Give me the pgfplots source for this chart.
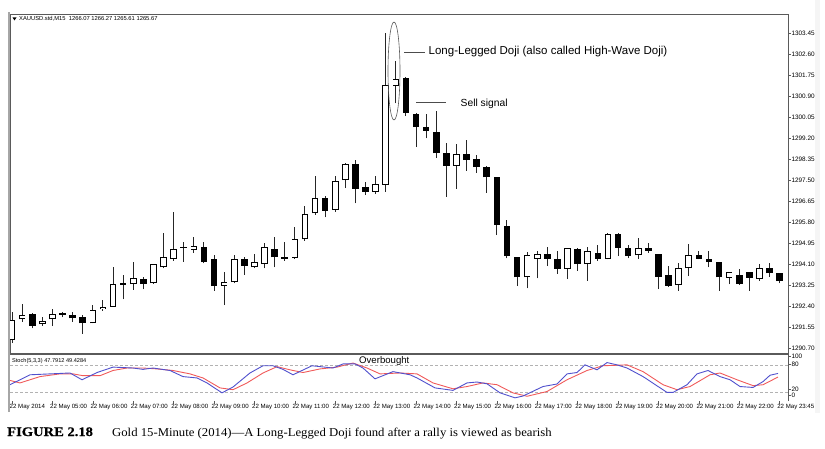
\documentclass[border=0pt]{standalone}
\usepackage{pgfplots}
\pgfplotsset{compat=1.18}
\usepackage{pgfplotstable}
\usepackage{fontspec}
\setmainfont{Liberation Sans}
\newfontfamily\capfont[FakeStretch=1.06]{Liberation Serif}
\newfontfamily\capbold[FakeStretch=1.12,FakeBold=0.6]{Liberation Serif Bold}
\definecolor{kblue}{RGB}{80,80,205}
\definecolor{dred}{RGB}{240,90,90}
\definecolor{frame}{RGB}{90,90,90}

\pgfplotstableread{
k O H L C
0 1291.02 1292.17 1290.90 1291.83
1 1291.86 1292.48 1291.76 1292.04
2 1292.08 1292.12 1291.50 1291.60
3 1291.66 1291.94 1291.60 1291.80
4 1291.86 1292.27 1291.59 1292.06
5 1292.12 1292.15 1291.94 1292.05
6 1292.04 1292.15 1291.76 1291.90
7 1291.94 1292.04 1291.27 1291.70
8 1291.70 1292.44 1291.70 1292.24
9 1292.27 1292.64 1292.21 1292.35
10 1292.37 1293.99 1292.37 1293.28
11 1293.27 1293.66 1292.67 1293.30
12 1293.29 1294.19 1293.05 1293.55
13 1293.49 1293.59 1293.08 1293.29
14 1293.32 1294.12 1293.30 1294.10
15 1293.97 1295.34 1293.93 1294.40
16 1294.30 1296.22 1294.23 1294.70
17 1294.75 1295.00 1294.19 1294.78
18 1294.67 1295.18 1294.56 1294.83
19 1294.78 1295.00 1294.13 1294.17
20 1294.30 1294.47 1293.02 1293.21
21 1293.22 1293.79 1292.44 1293.36
22 1293.36 1294.47 1293.32 1294.30
23 1294.30 1294.37 1293.66 1294.03
24 1293.97 1294.51 1293.93 1294.17
25 1294.10 1294.97 1293.93 1294.78
26 1294.70 1295.21 1293.97 1294.37
27 1294.40 1295.00 1294.23 1294.32
28 1294.34 1295.59 1294.30 1295.10
29 1295.10 1296.45 1295.05 1296.12
30 1296.15 1297.66 1296.10 1296.76
31 1296.79 1296.85 1295.99 1296.26
32 1296.29 1297.66 1296.22 1297.46
33 1297.50 1298.18 1297.17 1298.15
34 1298.14 1298.31 1296.56 1297.14
35 1297.23 1297.43 1296.89 1297.03
36 1297.03 1297.66 1296.93 1297.34
37 1297.30 1303.44 1297.03 1301.35
38 1301.30 1302.30 1300.60 1301.58
39 1301.64 1301.68 1300.09 1300.23
40 1300.16 1300.23 1298.83 1299.64
41 1299.64 1300.17 1299.19 1299.50
42 1299.46 1300.30 1298.40 1298.58
43 1298.58 1299.00 1296.83 1298.07
44 1298.07 1298.95 1297.14 1298.56
45 1298.54 1299.12 1297.88 1298.31
46 1298.35 1298.51 1297.80 1298.02
47 1298.04 1298.07 1296.99 1297.61
48 1297.61 1297.63 1295.27 1295.68
49 1295.65 1295.88 1294.33 1294.42
50 1294.37 1294.40 1293.21 1293.56
51 1293.56 1294.57 1293.12 1294.45
52 1294.32 1294.63 1293.52 1294.52
53 1294.49 1294.78 1294.02 1294.32
54 1294.32 1294.63 1293.70 1293.90
55 1293.89 1294.76 1293.49 1294.74
56 1294.72 1294.74 1293.82 1294.10
57 1294.10 1294.78 1293.42 1294.63
58 1294.56 1294.87 1294.23 1294.32
59 1294.30 1295.34 1294.29 1295.32
60 1295.32 1295.34 1294.42 1294.76
61 1294.74 1294.86 1294.33 1294.42
62 1294.45 1295.14 1294.30 1294.74
63 1294.74 1294.96 1294.56 1294.63
64 1294.49 1294.52 1293.09 1293.59
65 1293.66 1294.03 1293.18 1293.22
66 1293.25 1294.13 1293.01 1293.93
67 1293.93 1294.91 1293.61 1294.47
68 1294.45 1294.64 1294.29 1294.32
69 1294.29 1294.64 1293.97 1294.18
70 1294.17 1294.20 1293.02 1293.56
71 1293.55 1293.78 1293.28 1293.76
72 1293.66 1293.89 1293.27 1293.29
73 1293.76 1293.78 1293.01 1293.55
74 1293.49 1294.09 1293.42 1293.93
75 1293.93 1294.15 1293.59 1293.72
76 1293.72 1293.74 1293.32 1293.41
}\candles

\pgfplotstableread{
k v
-0.2 36
1.78 58
3.76 60
5.74 62
6.93 47
8.42 63
10.0 75
11.98 73
12.97 70
13.96 73
15.64 67.5
16.93 54
18.32 51
19.31 40
20.79 18
21.88 31
23.56 62
24.85 78
25.84 78
26.83 70
27.82 58
29.7 78
31.78 73
32.77 82
33.96 82
34.75 73
35.94 49
37.72 65
39.41 58
40.1 51
41.88 29
43.66 23.5
45.05 40
46.04 42
47.03 38
48.32 18
49.8 7
50.59 11
52.57 32
53.96 37.6
54.95 60
55.94 63
56.73 80
57.92 69
58.91 85
59.9 80
60.89 73
62.48 54
64.85 19
65.45 19
66.83 36
67.82 60
68.91 67.5
70.1 54
71.09 47
72.08 32
73.37 30
74.36 43
75.05 57
75.84 61
}\stochK

\pgfplotstableread{
k v
-0.2 45.5
0.79 40
2.77 54
4.75 60
6.04 60
7.03 56
8.71 56
10.0 67.5
11.39 73
12.97 73
14.36 71
15.94 67.5
17.62 60
18.91 51
20.59 29
21.88 25
23.27 40
24.85 62
26.24 76
27.52 69
28.81 63
30.5 71
32.18 75
33.76 84
35.15 73
36.44 60
38.42 62
40.1 60
41.68 40
43.66 27
45.05 32
46.63 40
48.02 36
49.6 18
51.0 10.5
52.97 21
54.95 47
56.93 67.5
58.51 78
60.89 80
62.48 65
64.46 36
65.84 25
67.13 32
69.11 58
70.1 62
71.78 47
73.37 34
74.36 36
75.84 53
}\stochD

\begin{document}
\begin{tikzpicture}
\path[use as bounding box] (0pt,0pt) rectangle (825pt,448pt);
\fill[gray!8] (815pt,35pt) rectangle (820pt,448pt);

% ---------------- main price panel
\begin{axis}[
  at={(10pt,95pt)}, anchor=south west,
  scale only axis, width=778pt, height=339pt,
  xmin=-0.2, xmax=76.83, ymin=1290.50, ymax=1304.22,
  axis line style={draw=frame, line width=0.8pt},
  xtick=\empty,
  ytick={1290.70,1291.55,1292.40,1293.25,1294.10,1294.95,1295.80,1296.65,1297.50,1298.35,1299.20,1300.05,1300.90,1301.75,1302.60,1303.45},
  yticklabels={1290.70,1291.55,1292.40,1293.25,1294.10,1294.95,1295.80,1296.65,1297.50,1298.35,1299.20,1300.05,1300.90,1301.75,1302.60,1303.45},
  ytick pos=right, tick align=outside, major tick length=2.5pt,
  tick style={draw=frame, line width=0.5pt},
  yticklabel style={font=\fontsize{6.4}{7}\selectfont, inner sep=0.8pt},
  error bars/error mark=none,
]
% wicks
\addplot[draw=none, mark=none, forget plot,
  error bars/.cd, y dir=plus, y explicit,
  error bar style={draw=black!85, solid, line width=0.9pt}]
  table[x=k, y=L, y error plus expr={\thisrow{H}-\thisrow{L}}] {\candles};
% bodies (outline / black fill)
\addplot[draw=none, mark=none, forget plot,
  error bars/.cd, y dir=plus, y explicit,
  error bar style={draw=black, solid, line width=6.6pt}]
  table[x=k, y expr={min(\thisrow{O},\thisrow{C})},
        y error plus expr={max(abs(\thisrow{C}-\thisrow{O}),0.045)}] {\candles};
% white interiors of rising candles
\addplot[draw=none, mark=none, forget plot,
  error bars/.cd, y dir=plus, y explicit,
  error bar style={draw=white, solid, line width=4.8pt}]
  table[x=k, y expr={\thisrow{O}+0.038},
        y error plus expr={max(\thisrow{C}-\thisrow{O}-0.076,0)}] {\candles};
\end{axis}

% ---------------- stochastic panel
\begin{axis}[
  at={(10pt,47pt)}, anchor=south west,
  scale only axis, width=778pt, height=47pt,
  xmin=-0.2, xmax=76.83, ymin=0, ymax=104,
  axis y line*=right, axis x line*=bottom,
  x axis line style={draw=none},
  y axis line style={draw=frame, line width=0.8pt},
  tick align=outside, major tick length=2.5pt,
  tick style={draw=frame, line width=0.5pt},
  ytick={98,82,26,13.3}, yticklabels={100,80,20,0},
  yticklabel style={font=\fontsize{6.4}{7}\selectfont, inner sep=0.8pt},
  xtick={0,4,8,12,16,20,24,28,32,36,40,44,48,52,56,60,64,68,72,76},
  xticklabels={22 May 2014,22 May 05:00,22 May 06:00,22 May 07:00,22 May 08:00,22 May 09:00,22 May 10:00,22 May 11:00,22 May 12:00,22 May 13:00,22 May 14:00,22 May 15:00,22 May 16:00,22 May 17:00,22 May 18:00,22 May 19:00,22 May 20:00,22 May 21:00,22 May 22:00,22 May 23:45},
  xticklabel style={font=\fontsize{6.1}{7}\selectfont, anchor=north west, xshift=-3.5pt, inner sep=1pt},
]
\addplot[gray!60, densely dashed, line width=0.5pt, forget plot] coordinates {(-0.2,80) (76.83,80)};
\addplot[gray!60, densely dashed, line width=0.5pt, forget plot] coordinates {(-0.2,20) (76.83,20)};
\addplot[dred, line width=0.9pt, mark=none] table[x=k, y=v] {\stochD};
\addplot[kblue, line width=0.9pt, mark=none] table[x=k, y=v] {\stochK};
\end{axis}

\begin{scope}[x=1pt,y=1pt]
% frame details
\draw[frame, line width=2pt] (10,94.2) -- (788,94.2);
\draw[gray!70, line width=2.6pt] (9,36) -- (9,435.5);

% header texts
\fill[black] (12.5,430.5) -- (16.5,430.5) -- (14.5,427.5) -- cycle;
\node[anchor=west, inner sep=0, font=\fontsize{5.8}{7}\selectfont] at (19,429) {XAUUSD.std,M15\ \ 1266.07 1266.27 1265.61 1265.67};
\node[anchor=west, inner sep=0, font=\fontsize{5.6}{7}\selectfont] at (12,87) {Stoch(5,3,3) 47.7912 49.4284};
\node[anchor=west, inner sep=0, font=\fontsize{9.6}{11}\selectfont] at (359,86.5) {Overbought};

% annotations
\draw[frame, line width=0.6pt] (394,377) ellipse [x radius=6, y radius=49];
\draw[black!70, line width=0.6pt] (404,396) -- (425,396);
\node[anchor=west, inner sep=0, font=\fontsize{11.5}{13}\selectfont] at (428.5,396) {Long-Legged Doji (also called High-Wave Doji)};
\draw[black!70, line width=0.6pt] (416,345.7) -- (446,345.7);
\node[anchor=west, inner sep=0, font=\fontsize{10.3}{12}\selectfont] at (460.5,344) {Sell signal};

% caption
\node[anchor=base west, inner sep=0, font=\capbold\fontsize{13}{15}\selectfont] at (7,12) {FIGURE 2.18};
\node[anchor=base west, inner sep=0, font=\capfont\fontsize{12}{14}\selectfont] at (112,12) {Gold 15-Minute (2014)—A Long-Legged Doji found after a rally is viewed as bearish};
\end{scope}
\end{tikzpicture}
\end{document}
